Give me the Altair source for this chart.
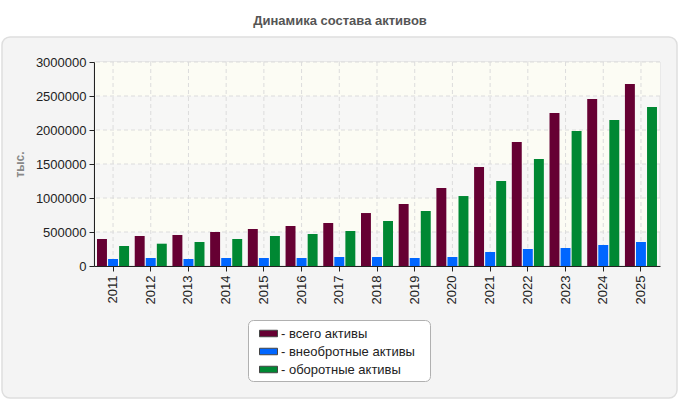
import altair as alt
import pandas as pd

# Years and series values (thousands)
years = [str(y) for y in range(2011, 2026)]
series = ["всего активы", "внеобротные активы", "оборотные активы"]
total_assets = [397000, 441000, 456000, 500000, 544000, 588000, 632000, 779000,
                912000, 1147000, 1456000, 1824000, 2250000, 2456000, 2676000]
noncurrent_assets = [103000, 118000, 103000, 118000, 118000, 118000, 132000, 132000,
                     118000, 132000, 206000, 250000, 265000, 309000, 353000]
current_assets = [294000, 328000, 353000, 397000, 441000, 471000, 515000, 662000,
                  809000, 1029000, 1250000, 1574000, 1985000, 2147000, 2338000]
colors = ["#660033", "#0066ff", "#008833"]
y_ticks = [0, 500000, 1000000, 1500000, 2000000, 2500000, 3000000]
band_lo = [500000, 1500000, 2500000]
band_hi = [1000000, 2000000, 3000000]

rows = []
for i, yr in enumerate(years):
    for name, vals in zip(series, [total_assets, noncurrent_assets, current_assets]):
        rows.append({"year": yr, "series": name, "value": vals[i]})
df = pd.DataFrame(rows)
bands_df = pd.DataFrame({"lo": band_lo, "hi": band_hi})
ticks_df = pd.DataFrame({"v": y_ticks[1:]})
years_df = pd.DataFrame({"year": years})
one = pd.DataFrame({"k": [0]})

FONT = "Liberation Sans"
W, H = 566, 204
GRID = "#dcdcdc"

x_scale = alt.Scale(domain=years, paddingInner=0.15, paddingOuter=0.08)
y_scale = alt.Scale(domain=[0, 3000000])

x_axis = alt.Axis(
    title=None, labelAngle=-90, labelAlign="right", labelBaseline="middle",
    labelFont=FONT, labelFontSize=13, labelColor="#222", labelPadding=4,
    tickColor="#222", tickSize=5, domainColor="#222", grid=False, zindex=1,
)
y_axis = alt.Axis(
    title="тыс.", values=y_ticks, format="d", labelOverlap=False, labelFlush=False,
    labelFont=FONT, labelFontSize=13, labelColor="#222", labelPadding=3,
    tickColor="#222", tickSize=5, domainColor="#222", grid=False, zindex=1,
    titleFont=FONT, titleFontSize=12, titleFontWeight="bold", titleColor="#888",
    titleX=-75, titleY=H / 2, titleAngle=-90, titleAlign="center",
    titleBaseline="middle",
)

# Rounded grey panel behind the plot
panel = alt.Chart(one).mark_rect(
    fill="#f4f4f4", stroke="#dedede", strokeWidth=1.5, cornerRadius=8
).encode(x=alt.value(-92), x2=alt.value(583), y=alt.value(-25), y2=alt.value(336))

# Plot area background
plot_bg = alt.Chart(one).mark_rect(fill="#f7f7f6", stroke="#dddddd").encode(
    x=alt.value(0), x2=alt.value(W), y=alt.value(0), y2=alt.value(H)
)

# Alternating pale bands
bands = alt.Chart(bands_df).mark_rect(fill="#fcfcf4").encode(
    y=alt.Y("lo:Q", scale=y_scale, axis=y_axis), y2="hi:Q",
    x=alt.value(0), x2=alt.value(W),
)

# Dashed grid lines
hgrid = alt.Chart(ticks_df).mark_rule(color=GRID, strokeDash=[4, 3]).encode(
    y=alt.Y("v:Q", scale=y_scale, axis=y_axis)
)
vgrid = alt.Chart(years_df).mark_rule(color=GRID, strokeDash=[4, 3]).encode(
    x=alt.X("year:N", scale=x_scale, axis=x_axis)
)

bars = alt.Chart(df).mark_bar().encode(
    x=alt.X("year:N", scale=x_scale, axis=x_axis),
    xOffset=alt.XOffset("series:N", sort=series, scale=alt.Scale(paddingInner=0.1)),
    y=alt.Y("value:Q", scale=y_scale, axis=y_axis),
    color=alt.Color(
        "series:N",
        sort=series,
        scale=alt.Scale(domain=series, range=colors),
        legend=alt.Legend(
            title=None, orient="none", legendX=154, legendY=258,
            fillColor="white", strokeColor="#b0b0b0", cornerRadius=5, padding=4,
            labelExpr="'- ' + datum.label + '\u00a0\u00a0\u00a0\u200b'",
            labelFont=FONT, labelFontSize=13, labelColor="#222", labelOffset=3,
            symbolOffset=7, symbolType="M-1,-0.36H1V0.36H-1Z", symbolSize=324,
            symbolStrokeColor="#444", symbolStrokeWidth=1,
            rowPadding=1, zindex=1,
        ),
    ),
)

chart = alt.layer(panel, plot_bg, bands, hgrid, vgrid, bars).properties(
    width=W,
    height=H,
    autosize=alt.AutoSizeParams(type="none"),
    padding={"left": 94, "top": 62, "right": 20, "bottom": 134},
    background="white",
    title=alt.TitleParams(
        "Динамика состава активов", font=FONT, fontSize=13, fontWeight="bold",
        color="#555", anchor="middle", dx=-37, offset=8,
    ),
).configure_view(stroke=None)

chart.save("out.html", embed_options={"renderer": "svg", "actions": False})
